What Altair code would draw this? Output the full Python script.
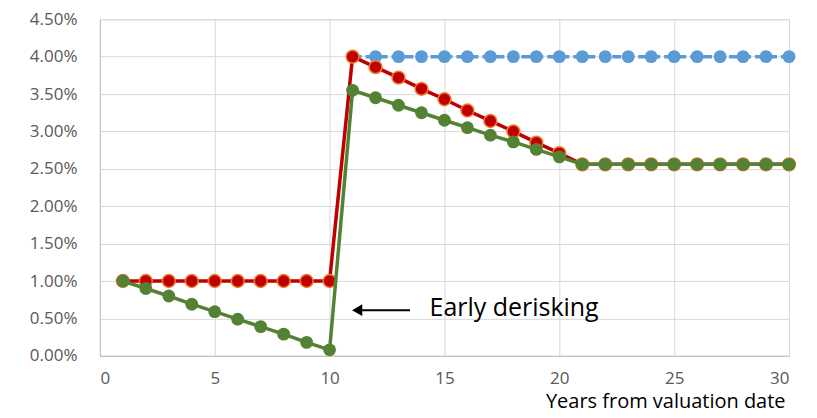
import altair as alt
import pandas as pd

# ---- data ----
blue_x = list(range(11, 31))
blue_y = [0.040] * 20

red_x = list(range(1, 31))
red_y = [0.0100] * 10 + [0.0400, 0.0386, 0.0372, 0.0357, 0.0343, 0.0328, 0.0314,
                         0.0300, 0.0285, 0.0271] + [0.0256] * 10

green_x = list(range(1, 31))
green_y = [0.0100, 0.0090, 0.0080, 0.0069, 0.0059, 0.0049, 0.0039, 0.0029, 0.0018, 0.0008,
           0.0355, 0.0345, 0.0335, 0.0325, 0.0315, 0.0305, 0.0295, 0.0286, 0.0276, 0.0266] + [0.0256] * 10

x_ticks = [0, 5, 10, 15, 20, 25, 30]
y_ticks = [0, 0.005, 0.01, 0.015, 0.02, 0.025, 0.03, 0.035, 0.04, 0.045]

annot_text = "Early derisking"
annot_pos = {"x": 14.35, "y": 0.0064}
arrow = {"x_from": 13.5, "x_to": 11.2, "y": 0.0061}

FONT = "Open Sans"

blue = pd.DataFrame({"x": blue_x, "y": blue_y})
red = pd.DataFrame({"x": red_x, "y": red_y})
green = pd.DataFrame({"x": green_x, "y": green_y})

xs = alt.Scale(domain=[0, 30], nice=False)
ys = alt.Scale(domain=[0, 0.045], nice=False)

X = alt.X("x:Q", scale=xs, axis=alt.Axis(values=x_ticks, title="Years from valuation date",
                                          titleAnchor="end", titleAlign="right",
                                          titleFontSize=20, titleFontWeight="normal",
                                          titleColor="#000000", titlePadding=5,
                                          titleX=686,
                                          labelFontSize=17, labelColor="#595959",
                                          labelPadding=15, ticks=False, grid=True,
                                          labelOverlap=False,
                                          gridColor="#D9D9D9", domainColor="#BFBFBF",
                                          labelFont=FONT, titleFont=FONT))
Y = alt.Y("y:Q", scale=ys, axis=alt.Axis(values=y_ticks, format=".2%", title=None,
                                          labelFontSize=17, labelColor="#595959",
                                          labelPadding=23, ticks=False, grid=True,
                                          labelOverlap=False,
                                          gridColor="#D9D9D9", domainColor="#BFBFBF",
                                          labelFont=FONT))

def series(df, color, stroke=None, dash=None):
    line_kwargs = dict(color=color, strokeWidth=3.5)
    if dash:
        line_kwargs["strokeDash"] = dash
    ln = alt.Chart(df).mark_line(**line_kwargs).encode(x=X, y=Y)
    pt_kwargs = dict(filled=True, size=165, color=color, opacity=1)
    if stroke:
        pt_kwargs.update(stroke=stroke, strokeWidth=1.5)
    pt = alt.Chart(df).mark_point(**pt_kwargs).encode(x=X, y=Y)
    return ln + pt

blue_ch = series(blue, "#5B9BD5", dash=[9, 4])
red_ch = series(red, "#C00000", stroke="#ED7D31")
green_ch = series(green, "#548235")

ann_df = pd.DataFrame([{"x": annot_pos["x"], "y": annot_pos["y"], "t": annot_text}])
text = alt.Chart(ann_df).mark_text(align="left", baseline="middle", fontSize=25,
                                   font=FONT, color="#000000").encode(
    x=X, y=Y, text="t:N")

arr_df = pd.DataFrame([{"x": arrow["x_from"], "x2": arrow["x_to"], "y": arrow["y"]}])
arr_line = alt.Chart(arr_df).mark_rule(color="#000000", strokeWidth=2).encode(
    x=X, x2="x2:Q", y=Y)
head_df = pd.DataFrame([{"x": arrow["x_to"], "y": arrow["y"]}])
arr_head = alt.Chart(head_df).mark_point(shape="triangle-left", filled=True, size=140,
                                         color="#000000", opacity=1).encode(
    x=X, y=Y)

chart = alt.layer(blue_ch, red_ch, green_ch, arr_line, arr_head, text).properties(
    width=690, height=337,
    autosize=alt.AutoSizeParams(type="none"),
    padding={"left": 92, "top": 11, "right": 20, "bottom": 58},
).configure_view(stroke=None).configure(background="#FFFFFF")

chart.save("out.html", embed_options={"renderer": "svg", "actions": False})
